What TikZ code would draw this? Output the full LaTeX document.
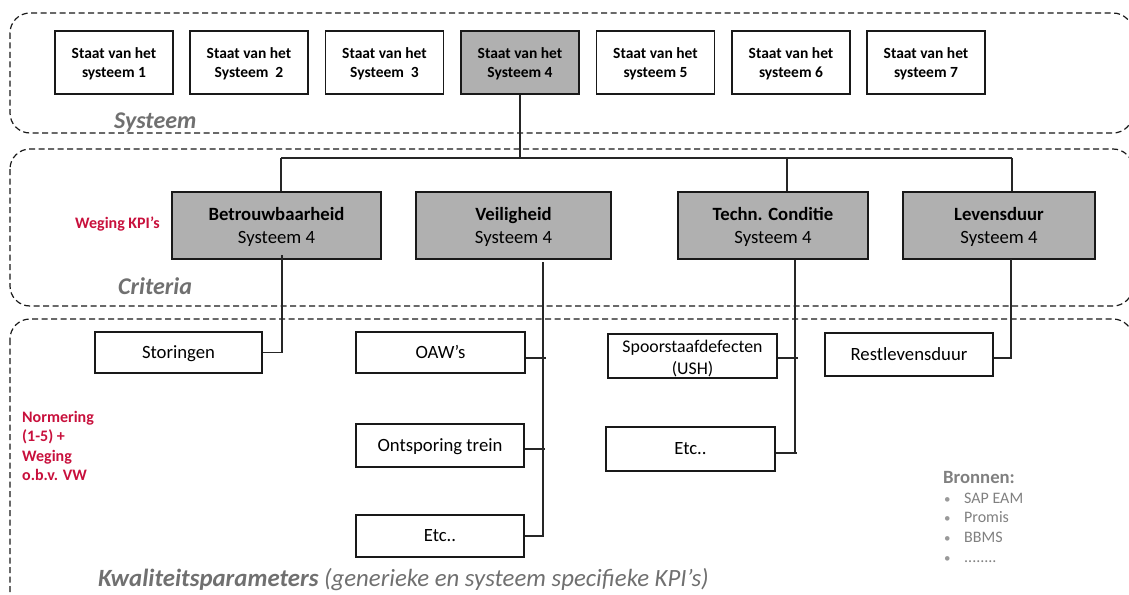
\documentclass[tikz,border=0pt]{standalone}
\usepackage{fontspec}
\setmainfont{Carlito}
\usetikzlibrary{calc}
\definecolor{kpired}{RGB}{200,16,60}
\definecolor{lbl}{RGB}{112,112,112}
\definecolor{srcgray}{RGB}{128,128,128}
\definecolor{boxgray}{RGB}{176,176,176}
\newcommand\mylower[2][2pt]{\raisebox{-#1}[\height][\depth]{\begin{tabular}{@{}c@{}}#2\end{tabular}}}
\begin{document}
\begin{tikzpicture}[x=1pt,y=-1pt,
  zone/.style={draw=black!90, line width=1.2pt, dash pattern=on 6pt off 3.5pt, rounded corners=20pt},
  sysbox/.style={draw=black!90, line width=1.2pt, minimum width=118pt, minimum height=63pt, inner sep=0pt, align=center, font=\fontsize{15.5}{19}\selectfont\bfseries},
  critbox/.style={draw=black!90, fill=boxgray, line width=1.2pt, minimum height=67pt, inner sep=0pt, align=center, font=\fontsize{18.7}{23}\selectfont},
  kpibox/.style={draw=black!90, line width=1.2pt, inner sep=0pt, align=center, font=\fontsize{18.7}{21}\selectfont},
  zonelabel/.style={anchor=base west, inner sep=0pt, text=lbl, font=\fontsize{24}{28}\selectfont\bfseries\itshape},
  redlabel/.style={inner sep=0pt, text=kpired, align=left, font=\fontsize{16}{19.5}\selectfont\bfseries},
  link/.style={draw=black!85, line width=1.1pt},
]
\useasboundingbox (0,0) rectangle (1129,594);
\clip (0,0) rectangle (1129,594);

% zones
\draw[zone] (10,13) rectangle (1133,133);
\draw[zone] (10,149) rectangle (1133,306);
\draw[zone] (10,319) rectangle (1133,620);

\node[zonelabel] (lsys) at (114,128) {Systeem};
\node[zonelabel] (lcrit) at (118,294) {Criteria};
\node[zonelabel, font=\fontsize{24.8}{28}\selectfont\bfseries\itshape] (lkwal) at (98,586) {Kwaliteitsparameters\mdseries\ (generieke en systeem specifieke KPI’s)};

% system row
\node[sysbox] (s1) at (114,62.5) {\mylower{Staat van het\\systeem 1}};
\node[sysbox] (s2) at (249,62.5) {\mylower{Staat van het\\Systeem\ \ 2}};
\node[sysbox] (s3) at (384.5,62.5) {\mylower{Staat van het\\Systeem\ \ 3}};
\node[sysbox, fill=boxgray] (s4) at (520,62.5) {\mylower{Staat van het\\Systeem 4}};
\node[sysbox] (s5) at (655.5,62.5) {\mylower{Staat van het\\systeem 5}};
\node[sysbox] (s6) at (791,62.5) {\mylower{Staat van het\\systeem 6}};
\node[sysbox] (s7) at (926,62.5) {\mylower{Staat van het\\systeem 7}};

% criteria
\node[critbox, minimum width=209pt] (c1) at (276.5,225.5) {\mylower{\textbf{Betrouwbaarheid}\\Systeem 4}};
\node[critbox, minimum width=195pt] (c2) at (513.5,225.5) {\mylower{\textbf{Veiligheid}\\Systeem 4}};
\node[critbox, minimum width=190pt] (c3) at (773,225.5) {\mylower{\textbf{Techn. Conditie}\\Systeem 4}};
\node[critbox, minimum width=192pt] (c4) at (999,225.5) {\mylower{\textbf{Levensduur}\\Systeem 4}};

\node[redlabel, anchor=base west] (weg) at (75,228) {Weging KPI’s};

% bus
\coordinate (bus) at (520,158);
\coordinate (b1) at (281,158);
\coordinate (b3) at (787,158);
\coordinate (b4) at (1012,158);
\draw[link] (s4.south) -- (bus);
\draw[link] (b1) -- (b4);
\draw[link] (b1) -- (c1.north -| b1);
\draw[link] (b3) -- (c3.north -| b3);
\draw[link] (b4) -- (c4.north -| b4);

% KPI boxes
\node[kpibox, minimum width=167pt, minimum height=41pt] (k1) at (178.5,352.5) {\mylower[1.5pt]{Storingen}};
\node[kpibox, minimum width=169pt, minimum height=41pt] (k2) at (440.5,352.5) {\mylower[1.5pt]{OAW’s}};
\node[kpibox, minimum width=168pt, minimum height=43pt] (k3) at (440,445.5) {\mylower[1.5pt]{Ontsporing trein}};
\node[kpibox, minimum width=168pt, minimum height=42pt] (k4) at (440,536) {\mylower[1.5pt]{Etc..}};
\node[kpibox, minimum width=169pt, minimum height=42pt, font=\fontsize{17.8}{22}\selectfont] (k5) at (692.5,356) {\mylower[3pt]{Spoorstaafdefecten\\(USH)}};
\node[kpibox, minimum width=169pt, minimum height=44pt] (k6) at (690.5,449) {\mylower[1.5pt]{Etc..}};
\node[kpibox, minimum width=168pt, minimum height=43pt] (k7) at (909,354.5) {\mylower[1.5pt]{Restlevensduur}};

% drops
\coordinate (d1) at (282,255);
\coordinate (d2) at (543,262);
\coordinate (d3) at (795,260);
\coordinate (d4) at (1011,259);
\draw[link] (d1) |- (k1.east);
\draw[link] (d2) |- (k4.east);
\draw[link] ($(k2.east)+(0,5.5)$) -- ($(k2.east -| d2)+(3,5.5)$);
\draw[link] ($(k3.east)+(0,3.5)$) -- ($(k3.east -| d2)+(2,3.5)$);
\draw[link] (d3) -- ($(k6.east -| d3)+(0,4)$);
\draw[link] ($(k5.east)+(0,2)$) -- ($(k5.east -| d3)+(3,2)$);
\draw[link] ($(k6.east)+(0,4)$) -- ($(k6.east -| d3)+(2,4)$);
\draw[link] (d4) |- ($(k7.east)+(0,3.5)$);

% red note
\node[redlabel, anchor=north west] (norm) at (22,411) {Normering\\(1-5) +\\Weging\\o.b.v. VW};

% sources
\node[anchor=base west, inner sep=0pt, text=srcgray, font=\fontsize{18.7}{22}\selectfont\bfseries] (bron) at (943,483) {Bronnen:};
\foreach \t/\yy [count=\i] in {SAP EAM/503, Promis/522, BBMS/542, {........}/562}{
  \node[anchor=base west, inner sep=0pt, text=srcgray!80, font=\fontsize{13}{16}\selectfont] (bul\i) at (944,\yy) {•};
  \node[anchor=base west, inner sep=0pt, text=srcgray, font=\fontsize{16}{19}\selectfont] (src\i) at (964,\yy) {\t};
}
\end{tikzpicture}
\end{document}
